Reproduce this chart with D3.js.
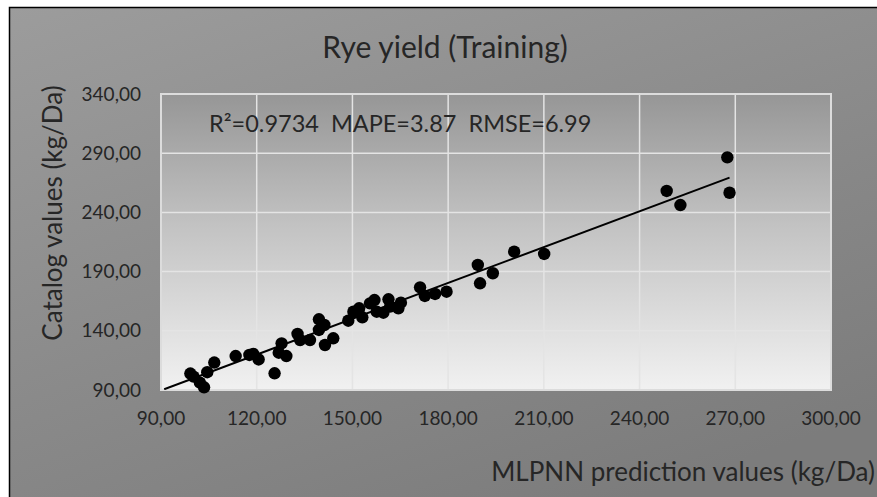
<!DOCTYPE html>
<html>
<head>
<meta charset="utf-8">
<script src="https://cdn.jsdelivr.net/npm/d3@7"></script>
<style>
	body{margin:0;background:#ffffff;}
	svg{display:block;}
	text{font-family:Lato,"Open Sans",sans-serif;fill:#262626;}
</style>
</head>
<body>
<svg id="chart" width="877" height="497"></svg>
<script>
// prediction (x) vs catalog (y)
var predicted = [99.2,100.2,102.2,103.5,104.5,106.7,113.4,117.7,118.9,120.6,125.6,126.9,127.8,129.3,
	132.8,133.6,136.7,139.5,139.5,141.2,141.4,144.0,148.7,150.3,152.1,153.1,155.5,156.9,157.6,159.7,
	161.3,161.8,164.4,165.2,171.2,172.7,175.9,179.5,189.3,190.0,194.0,200.7,210.1,248.5,252.8,267.5,268.2];
var catalog = [103.9,101.3,96.2,92.3,105.0,113.2,118.7,119.6,120.4,115.8,104.1,121.5,129.4,118.7,
	137.3,132.2,132.2,149.7,140.7,144.9,128.0,133.7,148.5,156.1,159.0,151.4,163.2,166.0,156.1,155.3,
	166.6,160.4,159.0,163.7,176.7,169.4,171.1,173.0,195.6,180.1,188.6,206.8,204.9,258.1,246.2,286.5,256.6];

var xTicks = [90,120,150,180,210,240,270,300];
var yTicks = [90,140,190,240,290,340];

// linear trend as drawn
var trendSlope = 1.009;
var trendIntercept = -1.2;
var trendFrom = 91;
var trendTo = 268.2;

var chartTitle = "Rye yield (Training)";
var statsText = "R\u00B2=0.9734  MAPE=3.87  RMSE=6.99";
var xTitle = "MLPNN prediction values (kg/Da)";
var yTitle = "Catalog values (kg/Da)";

function ScatterChart(containerId){
	var svg = d3.select(containerId);
	var plot = {left:161, right:831, top:94, bottom:390};

	var x = d3.scaleLinear().domain([90,300]).range([plot.left,plot.right]);
	var y = d3.scaleLinear().domain([90,340]).range([plot.bottom,plot.top]);
	var fmt = function(v){ return d3.format(".2f")(v).replace(".",","); };

	var defs = svg.append("defs");
	var outerGrad = defs.append("linearGradient").attr("id","outerGrad")
		.attr("x1","0").attr("y1","0").attr("x2","0.6").attr("y2","1");
	outerGrad.append("stop").attr("offset","0").attr("stop-color","#9c9c9c");
	outerGrad.append("stop").attr("offset","1").attr("stop-color","#7c7c7c");

	var plotGrad = defs.append("linearGradient").attr("id","plotGrad")
		.attr("x1","0").attr("y1","0").attr("x2","0").attr("y2","1");
	plotGrad.append("stop").attr("offset","0").attr("stop-color","#969696");
	plotGrad.append("stop").attr("offset","0.45").attr("stop-color","#c3c3c3");
	plotGrad.append("stop").attr("offset","1").attr("stop-color","#f1f1f1");

	defs.append("clipPath").attr("id","plotClip")
		.append("rect")
		.attr("x",plot.left).attr("y",plot.top)
		.attr("width",plot.right-plot.left).attr("height",plot.bottom-plot.top);

	// chart frame, runs off the bottom and right edge
	svg.append("rect")
		.attr("x",9.5).attr("y",7.5)
		.attr("width",900).attr("height",520)
		.attr("fill","url(#outerGrad)")
		.attr("stroke","#000").attr("stroke-width",1.5);

	svg.append("rect")
		.attr("x",plot.left).attr("y",plot.top)
		.attr("width",plot.right-plot.left).attr("height",plot.bottom-plot.top)
		.attr("fill","url(#plotGrad)");

	// grid
	svg.append("g").selectAll("line.vgrid")
		.data(xTicks)
		.enter()
			.append("line")
			.attr("class","vgrid")
			.attr("x1",x).attr("x2",x)
			.attr("y1",plot.top).attr("y2",plot.bottom)
			.attr("stroke","#e4e4e4").attr("stroke-width",1.5);
	svg.append("g").selectAll("line.hgrid")
		.data(yTicks)
		.enter()
			.append("line")
			.attr("class","hgrid")
			.attr("y1",y).attr("y2",y)
			.attr("x1",plot.left).attr("x2",plot.right)
			.attr("stroke","#e4e4e4").attr("stroke-width",1.5);

	svg.append("rect")
		.attr("x",plot.left).attr("y",plot.top)
		.attr("width",plot.right-plot.left).attr("height",plot.bottom-plot.top)
		.attr("fill","none")
		.attr("stroke","#dcdcdc").attr("stroke-width",2);

	// tick labels
	svg.append("g").selectAll("text")
		.data(yTicks)
		.enter()
			.append("text")
			.attr("x",141)
			.attr("y",y)
			.attr("dy","0.35em")
			.attr("text-anchor","end")
			.style("font-size","19px")
			.text(fmt);
	svg.append("g").selectAll("text")
		.data(xTicks)
		.enter()
			.append("text")
			.attr("x",x)
			.attr("y",418)
			.attr("dy","0.35em")
			.attr("text-anchor","middle")
			.style("font-size","19px")
			.text(fmt);

	// trend line
	var trend = [trendFrom,trendTo].map(function(v){ return [v, trendIntercept+trendSlope*v]; });
	svg.append("path")
		.datum(trend)
		.attr("clip-path","url(#plotClip)")
		.attr("d",d3.line().x(function(d){return x(d[0]);}).y(function(d){return y(d[1]);}))
		.attr("stroke","#000").attr("stroke-width",2).attr("fill","none");

	// points
	var points = predicted.map(function(v,i){ return [v,catalog[i]]; });
	svg.append("g").selectAll("circle")
		.data(points)
		.enter()
			.append("circle")
			.attr("cx",function(d){return x(d[0]);})
			.attr("cy",function(d){return y(d[1]);})
			.attr("r",6.2)
			.attr("fill","#000");

	// texts
	svg.append("text")
		.attr("x",445).attr("y",58)
		.attr("text-anchor","middle")
		.style("font-size","30px")
		.text(chartTitle);
	svg.append("text")
		.attr("x",209).attr("y",132)
		.style("font-size","23.5px")
		.style("white-space","pre")
		.text(statsText);
	svg.append("text")
		.attr("x",875).attr("y",481)
		.attr("text-anchor","end")
		.style("font-size","26px")
		.text(xTitle);
	svg.append("text")
		.attr("transform","translate(62,213) rotate(-90)")
		.attr("text-anchor","middle")
		.style("font-size","26px")
		.text(yTitle);
}

new ScatterChart("#chart");
</script>
</body>
</html>
